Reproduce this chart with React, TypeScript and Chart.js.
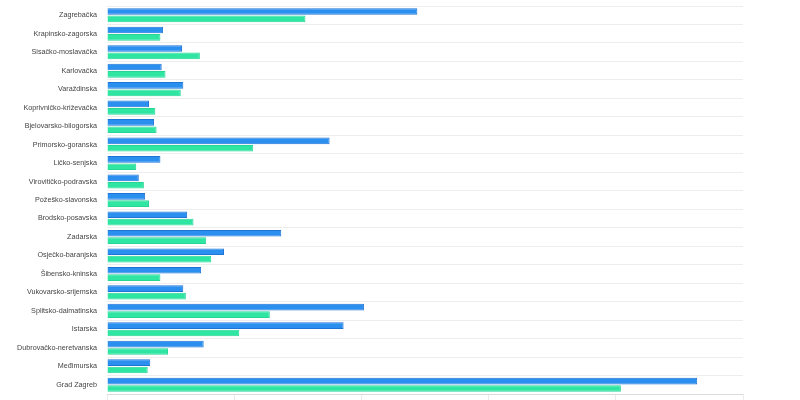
import { useEffect, useRef } from "react";
import { Chart, registerables } from "chart.js";

Chart.register(...registerables);

const counties = [
  "Zagrebačka",
  "Krapinsko-zagorska",
  "Sisačko-moslavačka",
  "Karlovačka",
  "Varaždinska",
  "Koprivničko-križevačka",
  "Bjelovarsko-bilogorska",
  "Primorsko-goranska",
  "Ličko-senjska",
  "Virovitičko-podravska",
  "Požeško-slavonska",
  "Brodsko-posavska",
  "Zadarska",
  "Osječko-baranjska",
  "Šibensko-kninska",
  "Vukovarsko-srijemska",
  "Splitsko-dalmatinska",
  "Istarska",
  "Dubrovačko-neretvanska",
  "Međimurska",
  "Grad Zagreb",
];

const blueValues = [
  244, 44, 59, 43, 60, 33, 37, 175, 42, 25, 30, 63, 137, 92, 74, 60, 202, 186,
  76, 34, 464,
];

const greenValues = [
  156, 42, 73, 46, 58, 38, 39, 115, 23, 29, 33, 68, 78, 82, 42, 62, 128, 104,
  48, 32, 404,
];

const xMax = 500;
const xStep = 100;

const FONT = "'Liberation Sans', Arial, sans-serif";

export default function App() {
  const chartRef = useRef<HTMLCanvasElement>(null);
  const chartInstance = useRef<Chart | null>(null);

  useEffect(() => {
    document.body.style.margin = "0";
    document.body.style.overflow = "hidden";
    if (!chartRef.current) return;

    if (chartInstance.current) {
      chartInstance.current.destroy();
    }

    const ctx = chartRef.current.getContext("2d");
    if (!ctx) return;

    chartInstance.current = new Chart(ctx, {
      type: "bar",
      data: {
        labels: counties,
        datasets: [
          {
            label: "Series 1",
            data: blueValues,
            backgroundColor: "#2b8ff0",
            borderColor: "#1f74d6",
            borderWidth: 1,
          },
          {
            label: "Series 2",
            data: greenValues,
            backgroundColor: "#2ee5a2",
            borderColor: "#27d595",
            borderWidth: 1,
          },
        ],
      },
      options: {
        indexAxis: "y",
        animation: false,
        responsive: true,
        maintainAspectRatio: false,
        layout: {
          padding: { top: 6, right: 57, left: 0, bottom: 0 },
        },
        scales: {
          x: {
            min: 0,
            max: xMax,
            ticks: {
              stepSize: xStep,
              color: "#666",
              font: { family: FONT, size: 7.2 },
            },
            grid: {
              drawOnChartArea: false,
              drawTicks: true,
              tickLength: 6,
              color: "rgba(0,0,0,0.08)",
            },
            border: { display: true, color: "rgba(0,0,0,0.08)" },
            afterFit: (scale: any) => {
              scale.height = 36;
            },
          },
          y: {
            ticks: {
              color: "#444",
              padding: 0,
              font: { family: FONT, size: 7.2 },
            },
            grid: {
              drawTicks: true,
              tickLength: 10,
              tickColor: "rgba(0,0,0,0)",
              color: "rgba(0,0,0,0.07)",
            },
            border: { display: false },
            afterFit: (scale: any) => {
              scale.width = 107;
            },
          },
        },
        plugins: {
          legend: { display: false },
          tooltip: { enabled: false },
        },
      },
    });

    return () => {
      if (chartInstance.current) {
        chartInstance.current.destroy();
        chartInstance.current = null;
      }
    };
  }, []);

  return (
    <div style={{ width: 800, height: 430, position: "relative" }}>
      <canvas ref={chartRef} />
    </div>
  );
}
